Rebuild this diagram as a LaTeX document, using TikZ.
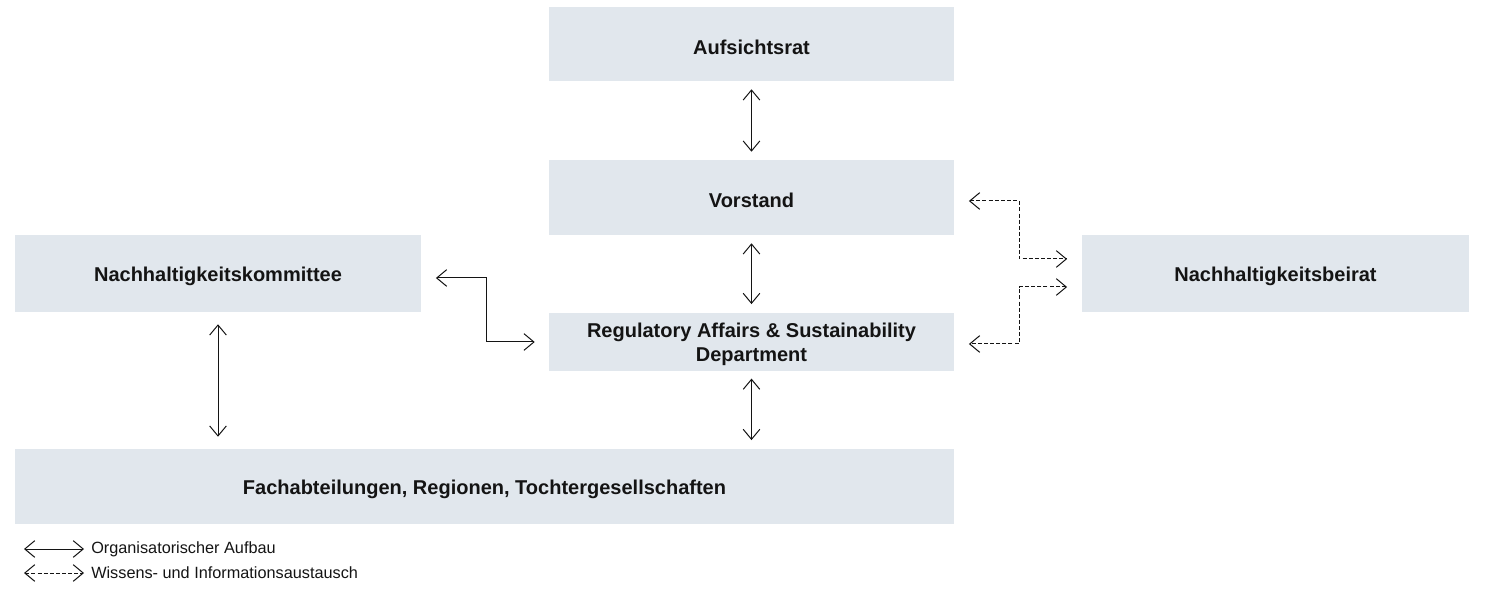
\documentclass[tikz,border=0pt]{standalone}
\usepackage{fontspec}
\setmainfont{Liberation Sans}
\usetikzlibrary{arrows.meta,calc}
\definecolor{boxfill}{RGB}{225,231,237}
\definecolor{ink}{RGB}{20,20,20}
\newcommand\lowtxt[1]{\raisebox{-2.25pt}[\height][\depth]{#1}}
\begin{document}
\begin{tikzpicture}[x=0.75pt,y=-0.75pt,
  orgbox/.style={fill=boxfill,draw=none,inner sep=0pt,align=center,text=ink,
    font=\fontsize{15}{18}\selectfont\bfseries},
  conn/.style={draw=ink,line width=0.75pt,{Straight Barb[length=7.5pt,width=12.5pt]}-{Straight Barb[length=7.5pt,width=12.5pt]}},
  dconn/.style={conn,dash pattern=on 3pt off 1.6pt},
  legtext/.style={anchor=west,inner sep=0pt,text=ink,font=\fontsize{12.2}{14}\selectfont}]
\useasboundingbox (0,0) rectangle (1486,595);
% boxes
\node[orgbox,minimum width=303.75pt,minimum height=55.5pt] (auf) at (751.5,44) {\lowtxt{Aufsichtsrat}};
\node[orgbox,minimum width=303.75pt,minimum height=56.25pt] (vor) at (751.5,197.5) {\lowtxt{Vorstand}};
\node[orgbox,minimum width=303.75pt,minimum height=43.5pt] (reg) at (751.5,342) {\raisebox{-2.25pt}[\height][\depth]{\begin{tabular}{@{}c@{}}Regulatory Affairs \& Sustainability\\Department\end{tabular}}};
\node[orgbox,minimum width=304.5pt,minimum height=57.75pt] (kom) at (218,273.5) {\lowtxt{Nachhaltigkeitskommittee}};
\node[orgbox,minimum width=290.25pt,minimum height=57.75pt] (bei) at (1275.5,273.5) {\lowtxt{Nachhaltigkeitsbeirat}};
\node[orgbox,minimum width=704.25pt,minimum height=56.25pt] (fach) at (484.5,486.5) {\lowtxt{Fachabteilungen, Regionen, Tochtergesellschaften}};
% vertical organisational links
\draw[conn,shorten <=6pt,shorten >=6pt] (auf.south) -- (vor.north);
\draw[conn,shorten <=6pt,shorten >=6.5pt] (vor.south) -- (reg.north);
\draw[conn,shorten <=5.5pt,shorten >=6.5pt] (reg.south) -- (fach.north -| reg.south);
\draw[conn,shorten <=9pt,shorten >=9pt] (kom.south) -- (fach.north -| kom.south);
% elbow link committee - department
\coordinate (e1) at (486,278);
\draw[conn,shorten <=11pt,shorten >=10.5pt] (kom.east |- e1) -- (e1) -- (e1 |- reg.west) -- (reg.west);
% dashed links
\coordinate (d1) at (1019,201);
\coordinate (d2) at (1019,259);
\coordinate (d3) at (1019,287);
\coordinate (d4) at (1019,344);
\draw[dconn,shorten <=11pt,shorten >=11pt] (vor.east |- d1) -- (d1) -- (d2) -- (bei.west |- d2);
\draw[dconn,shorten <=11pt,shorten >=11pt] (bei.west |- d3) -- (d3) -- (d4) -- (reg.east |- d4);
% legend
\coordinate (l1a) at (24,549);
\coordinate (l1b) at (84,549);
\coordinate (l2a) at (24,573);
\coordinate (l2b) at (84,573);
\draw[conn] (l1a) -- (l1b);
\draw[dconn] (l2a) -- (l2b);
\node[legtext] (lt1) at (91,549) {Organisatorischer Aufbau};
\node[legtext] (lt2) at (91,573) {Wissens- und Informationsaustausch};
\end{tikzpicture}
\end{document}
